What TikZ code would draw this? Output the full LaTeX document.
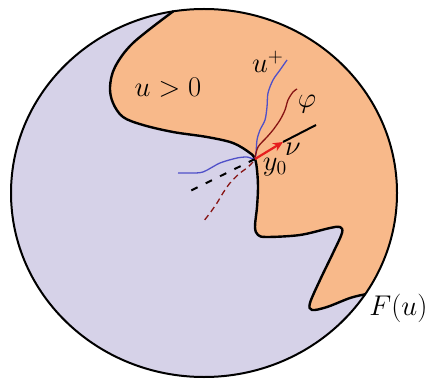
\documentclass[tikz,border=0pt]{standalone}
\usepackage{amsmath,amssymb}
\usepackage{xcolor}
\usetikzlibrary{arrows.meta}
\definecolor{lavender}{RGB}{214,210,232}
\definecolor{peach}{RGB}{248,185,138}
\definecolor{curveblue}{RGB}{80,80,200}
\definecolor{curvered}{RGB}{135,20,20}
\definecolor{arrowred}{RGB}{230,30,30}
\begin{document}
\begin{tikzpicture}[x=1pt,y=1pt,
    lbl/.style={font=\LARGE,scale=1.65,transform shape,inner sep=1pt},
    edge/.style={line width=2.4pt,line cap=round,line join=round}]
  \useasboundingbox (0,0) rectangle (435,380);
  \fill[lavender] (204,187) ellipse [x radius=193, y radius=184];
  \fill[peach] plot[smooth,tension=0.55] coordinates {(173.1,368.6) (133,337) (115,313) (110,293) (113,277) (123,263) (143,255) (173,248) (207,243) (233,237) (250,227) (255,221) (257,210) (258,193) (257,173) (255,153) (258,145) (267,143) (300,145) (330,152) (340,153) (342,147) (333,127) (320,100) (310,77) (312,70) (327,73) (350,82) (365.1,85.7)}
    arc [start angle=-33.4, end angle=99.2, x radius=193, y radius=184] -- cycle;
  \draw[edge] plot[smooth,tension=0.55] coordinates {(173.1,368.6) (133,337) (115,313) (110,293) (113,277) (123,263) (143,255) (173,248) (207,243) (233,237) (250,227) (255,221) (257,210) (258,193) (257,173) (255,153) (258,145) (267,143) (300,145) (330,152) (340,153) (342,147) (333,127) (320,100) (310,77) (312,70) (327,73) (350,82) (365.1,85.7)};
  \draw[line width=2pt] (204,187) ellipse [x radius=193, y radius=184];
  % curves through y0
  \coordinate (y0) at (255,221);
  \draw[curveblue,line width=1.3pt] plot[smooth] coordinates {(178,207) (190,207) (203,208) (220,217) (237,222) (247,223) (255,222) (257,240) (260,250) (265,260) (267,273) (268,287) (273,300) (280,310) (287,320)};
  \draw[curvered,line width=1.3pt] plot[smooth] coordinates {(255,222) (258,233) (267,243) (273,250) (280,260) (285,270) (288,280) (293,288) (297,291)};
  \draw[curvered,line width=1.3pt,dash pattern=on 6pt off 4pt] plot[smooth] coordinates {(253,218) (247,212) (240,207) (230,197) (223,187) (217,177) (210,167) (203,158)};
  % normal
  \coordinate (tip) at (283,238);
  \coordinate (nend) at (316,255);
  \coordinate (nback) at (188,188);
  \draw[line width=2pt] (tip) -- (nend);
  \draw[line width=2pt,dash pattern=on 7pt off 9pt] (y0) -- (nback);
  \draw[arrowred,line width=2.2pt,-{Stealth[length=10pt,width=9pt]}] (y0) -- (tip);
  % labels
  \node[lbl] (pos) at (168,292) {$u>0$};
  \node[lbl] (uplus) at (268,318) {$u^+$};
  \node[lbl] (phi) at (307,276) {$\varphi$};
  \node[lbl] (nu) at (293,231) {$\nu$};
  \node[lbl] (ynode) at (275,213) {$y_0$};
  \node[lbl,anchor=west,inner sep=0pt] (fu) at (369,72) {$F(u)$};
\end{tikzpicture}
\end{document}
